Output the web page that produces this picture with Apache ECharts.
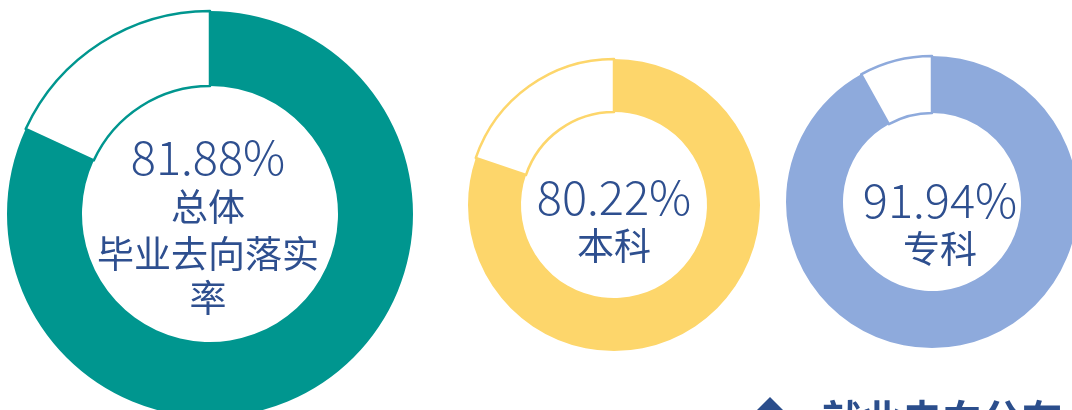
<!DOCTYPE html>
<html>
<head>
<meta charset="utf-8">
<script src="https://cdn.jsdelivr.net/npm/echarts@6/dist/echarts.min.js"></script>
<style>
  html, body { margin: 0; padding: 0; background: #fff; }
  #main { width: 1072px; height: 410px; }
</style>
</head>
<body>
<div id="main"></div>
<script>
// rates (%) per group
const groups = ["总体", "本科", "专科"];
const rates = [81.88, 80.22, 91.94];
const subtitles = [["总体", "毕业去向落实", "率"], ["本科"], ["专科"]];
const colors = ["#00968f", "#fdd66b", "#8eaadc"];

// layout for each donut (px)
const centers = [[210, 214], [614, 205], [932, 202]];
const radii = [[128, 203], [93, 146], [89, 146]];
// y of the percentage line, then of each subtitle line
const textX = [208, 614, 940];
const textY = [[154, 207, 254, 298], [194, 246], [197, 249]];
const textColor = "#2e4f8f";
const font = "'Noto Sans CJK SC', sans-serif";

const chart = echarts.init(document.getElementById("main"));

const series = groups.map((g, i) => ({
  type: "pie",
  center: centers[i],
  radius: radii[i],
  startAngle: 90,
  clockwise: true,
  silent: true,
  label: { show: false },
  labelLine: { show: false },
  data: [
    { name: g, value: rates[i], itemStyle: { color: colors[i] } },
    {
      name: "其他",
      value: +(100 - rates[i]).toFixed(2),
      itemStyle: { color: "#fff", borderColor: colors[i], borderWidth: 2.5 }
    }
  ]
}));

// center texts
const graphic = [];
groups.forEach((g, i) => {
  graphic.push({
    type: "text",
    x: textX[i],
    y: textY[i][0] + 3,
    style: {
      text: rates[i].toFixed(2) + "%",
      fill: textColor,
      font: "300 47px " + font,
      textAlign: "center",
      textVerticalAlign: "middle"
    }
  });
  subtitles[i].forEach((t, j) => {
    graphic.push({
      type: "text",
      x: textX[i],
      y: textY[i][j + 1],
      style: {
        text: t,
        fill: textColor,
        font: "37px " + font,
        textAlign: "center",
        textVerticalAlign: "middle"
      }
    });
  });
});

// section heading at the bottom (cut off)
graphic.push({
  type: "polygon",
  shape: { points: [[770, 397], [786, 413], [770, 429], [754, 413]] },
  style: { fill: "#2b4e8c" }
});
graphic.push({
  type: "text",
  x: 822,
  y: 399,
  style: {
    text: "就业去向分布",
    fill: "#2b4e8c",
    font: "bold 40px " + font
  }
});

chart.setOption({
  animation: false,
  series,
  graphic
});
</script>
</body>
</html>
